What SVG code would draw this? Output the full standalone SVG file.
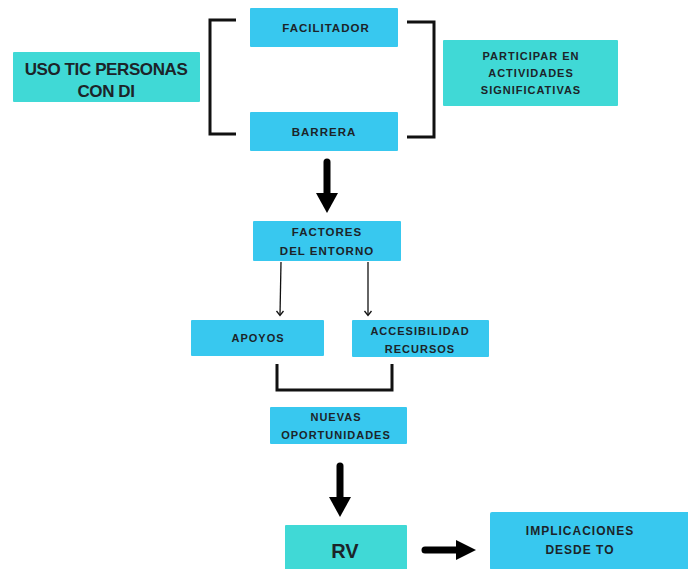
<svg xmlns="http://www.w3.org/2000/svg" width="688" height="569" viewBox="0 0 688 569">
<style>
.blue{fill:#38C8EF}
.teal{fill:#40D9D6}
.t{font-family:"Liberation Sans",Arial,sans-serif;font-weight:bold;fill:#1c2429;text-anchor:middle;letter-spacing:1px}
.s{font-size:11.5px}
.br{fill:none;stroke:#111;stroke-width:3}
.ar{fill:#000}
.thin{fill:none;stroke:#111;stroke-width:1.3}
</style>
<rect width="688" height="569" fill="#fff"/>
<g id="uso"><rect class="teal" x="13" y="52" width="187" height="50" rx="1"/>
<text class="t" x="106" y="75" font-size="17" style="letter-spacing:-0.4px">USO TIC PERSONAS</text>
<text class="t" x="106" y="97" font-size="17" style="letter-spacing:-0.4px">CON DI</text></g>
<g id="facilitador"><rect class="blue" x="250" y="8" width="148" height="39" rx="1"/>
<text class="t s" x="326" y="32">FACILITADOR</text></g>
<g id="barrera"><rect class="blue" x="250" y="112" width="148" height="39" rx="1"/>
<text class="t s" x="324" y="136">BARRERA</text></g>
<g id="participar"><rect class="teal" x="443" y="40" width="175" height="66" rx="1"/>
<text class="t" font-size="11" x="531" y="60">PARTICIPAR EN</text>
<text class="t" font-size="11" x="531" y="77">ACTIVIDADES</text>
<text class="t" font-size="11" x="531" y="94">SIGNIFICATIVAS</text></g>
<g id="factores"><rect class="blue" x="253" y="221" width="148" height="40" rx="1"/>
<text class="t s" x="327" y="236">FACTORES</text>
<text class="t s" x="327" y="255">DEL ENTORNO</text></g>
<g id="apoyos"><rect class="blue" x="191" y="320" width="133" height="36" rx="1"/>
<text class="t" font-size="11" x="258" y="342">APOYOS</text></g>
<g id="accesibilidad"><rect class="blue" x="352" y="320" width="137" height="37" rx="1"/>
<text class="t" font-size="11" x="420" y="335">ACCESIBILIDAD</text>
<text class="t" font-size="11" x="420" y="353">RECURSOS</text></g>
<g id="nuevas"><rect class="blue" x="270" y="407" width="137" height="37" rx="1"/>
<text class="t" font-size="11" x="336" y="421">NUEVAS</text>
<text class="t" font-size="11" x="336" y="439">OPORTUNIDADES</text></g>
<g id="rv"><rect class="teal" x="285" y="525" width="122" height="46" rx="1"/>
<text class="t" font-size="20" x="345" y="558" style="letter-spacing:0">RV</text></g>
<g id="implicaciones"><rect class="blue" x="490" y="512" width="200" height="58" rx="2"/>
<text class="t" font-size="12" x="580" y="535">IMPLICACIONES</text>
<text class="t" font-size="12" x="580" y="554">DESDE TO</text></g>
<g id="connectors">
<path class="br" d="M236 20 H210 V134 H236"/>
<path class="br" d="M407 22 H434 V137 H407"/>
<path class="br" d="M277 364 V390 H392 V364"/>
<line x1="327" y1="162" x2="327" y2="196" stroke="#000" stroke-width="7" stroke-linecap="round"/>
<polygon class="ar" points="316,193 338,193 327,213"/>
<line x1="340" y1="466" x2="340" y2="500" stroke="#000" stroke-width="7" stroke-linecap="round"/>
<polygon class="ar" points="329,497 351,497 340,517"/>
<line x1="425" y1="550" x2="459" y2="550" stroke="#000" stroke-width="7" stroke-linecap="round"/>
<polygon class="ar" points="456,540 456,560 476,550"/>
<line class="thin" x1="281" y1="262" x2="280" y2="315"/>
<path class="thin" d="M276.5 311 L280 315.5 L283.5 311"/>
<line class="thin" x1="368" y1="262" x2="368" y2="315"/>
<path class="thin" d="M364.5 311 L368 315.5 L371.5 311"/>
</g>
</svg>
